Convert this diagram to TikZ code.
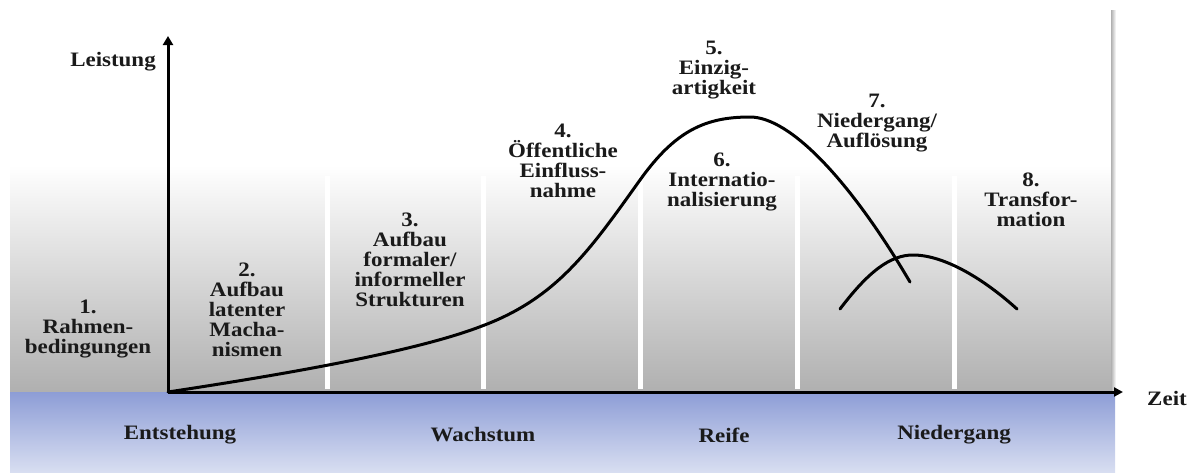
\documentclass[tikz,border=0pt]{standalone}
\usepackage{fontspec}
\setmainfont{Liberation Serif}[FakeStretch=1.12]
\usetikzlibrary{arrows.meta}
\definecolor{bandtop}{HTML}{8D9DD6}
\definecolor{bandbot}{HTML}{D8DEF1}
\definecolor{panelbot}{HTML}{B0B0B0}
\definecolor{txt}{HTML}{1A1A1A}
\begin{document}
\begin{tikzpicture}[x=1pt,y=-1pt,
  lbl/.style={align=center,text=txt,font=\bfseries\fontsize{20.5}{20}\selectfont,inner sep=0pt},
  axis/.style={line width=3pt,-{Triangle[length=9pt,width=10pt]}},
  curve/.style={line width=3pt,line cap=round},
  divider/.style={draw=white,line width=5pt}]
\useasboundingbox (0,0) rectangle (1192,472);
% panel
\fill[white] (10,10) rectangle (1113,165);
\shade[top color=white,bottom color=panelbot] (10,165) rectangle (1113,391);
\shade[left color=panelbot,right color=white] (1111,10) rectangle (1116,391);
% blue band
\shade[top color=bandtop,bottom color=bandbot] (10,392) rectangle (1115,472);
% dividers
\foreach \x in {327,483,640,797,954}
  \draw[divider] (\x,176) -- (\x,389);
% axes
\coordinate (O) at (168,392);
\coordinate (ytip) at (168,36);
\coordinate (xtip) at (1123,392);
\draw[axis] (O) -- (ytip);
\draw[line width=3pt,-{Triangle[length=9pt,width=9pt]}] (O) -- (xtip);
% main curve
\draw[curve] (O) .. controls (300,372) and (420,350) .. (482,326)
  .. controls (557,298) and (590,250) .. (640,180)
  .. controls (675,131) and (705,117) .. (750,117)
  .. controls (790,117) and (850,180) .. (910,282);
% transformation curve
\draw[curve] (840,309) .. controls (868,272) and (890,255) .. (913,255)
  .. controls (945,255) and (985,280) .. (1017,309);
% labels
\node[lbl] (leistung) at (113,62) {Leistung};
\node[lbl] (zeit) at (1167,398) {Zeit};
\node[lbl] (s1) at (88,329) {1.\\Rahmen-\\bedingungen};
\node[lbl] (s2) at (247,310) {2.\\Aufbau\\latenter\\Macha-\\nismen};
\node[lbl] (s3) at (410,260) {3.\\Aufbau\\formaler/\\informeller\\Strukturen};
\node[lbl] (s4) at (563,161) {4.\\Öffentliche\\Einfluss-\\nahme};
\node[lbl] (s5) at (714,70) {5.\\Einzig-\\artigkeit};
\node[lbl] (s6) at (722,182) {6.\\Internatio-\\nalisierung};
\node[lbl] (s7) at (877,123) {7.\\Niedergang/\\Auflösung};
\node[lbl] (s8) at (1031,200) {8.\\Transfor-\\mation};
\node[lbl] (p1) at (180,435) {Entstehung};
\node[lbl] (p2) at (483,435) {Wachstum};
\node[lbl] (p3) at (724,435) {Reife};
\node[lbl] (p4) at (954,435) {Niedergang};
\end{tikzpicture}
\end{document}
